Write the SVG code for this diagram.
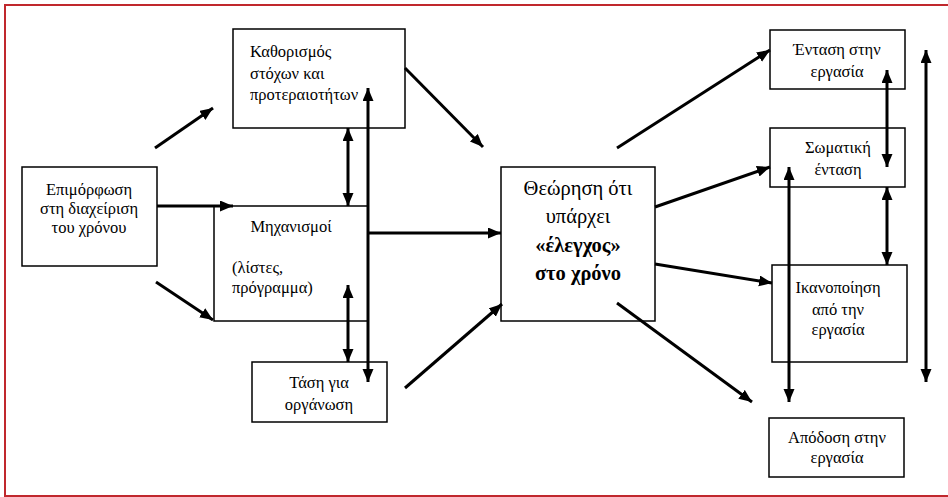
<svg xmlns="http://www.w3.org/2000/svg" width="948" height="497" viewBox="0 0 948 497">
<style>
.bx{fill:#fff;stroke:#000;stroke-width:1.5}
.t{font-family:"Liberation Serif","Times New Roman",serif;font-size:16.5px;fill:#000}
.c{text-anchor:middle}
.big{font-size:20.5px}
.b{font-weight:bold}
.ln{stroke:#000;stroke-width:3;fill:none}
.s{marker-end:url(#ah)}
.d{marker-start:url(#ah);marker-end:url(#ah)}
</style>
<defs>
<marker id="ah" markerUnits="userSpaceOnUse" markerWidth="14" markerHeight="12" refX="13" refY="5.5" orient="auto-start-reverse">
<path d="M0,0 L13,5.5 L0,11 Z" fill="#000"/>
</marker>
</defs>
<rect x="0" y="0" width="948" height="497" fill="#fff"/>
<rect x="5" y="5" width="960" height="491" fill="none" stroke="#c0282d" stroke-width="2"/>
<g id="n-kathorismos"><rect class="bx" x="233" y="29" width="172" height="99"/>
<text class="t" x="250" y="57">Καθορισμός</text><text class="t" x="250" y="79">στόχων και</text><text class="t" x="250" y="100">προτεραιοτήτων</text></g>
<g id="n-epimorfosi"><rect class="bx" x="22" y="167" width="135" height="99"/>
<text class="t c" x="89" y="195">Επιμόρφωση</text><text class="t c" x="89" y="214">στη διαχείριση</text><text class="t c" x="89" y="233">του χρόνου</text></g>
<g id="n-mixanismoi"><rect class="bx" x="214" y="206" width="154" height="115"/>
<text class="t c" x="291" y="232">Μηχανισμοί</text><text class="t" x="232" y="273">(λίστες,</text><text class="t" x="232" y="293">πρόγραμμα)</text></g>
<g id="n-tasi"><rect class="bx" x="252" y="362" width="135" height="60"/>
<text class="t c" x="319" y="388">Τάση για</text><text class="t c" x="319" y="410">οργάνωση</text></g>
<g id="n-theorisi"><rect class="bx" x="501" y="167" width="154" height="154"/>
<text class="t c big" x="578" y="195">Θεώρηση ότι</text><text class="t c big" x="578" y="223">υπάρχει</text><text class="t c big b" x="578" y="252">«έλεγχος»</text><text class="t c big b" x="578" y="280">στο χρόνο</text></g>
<g id="n-entasi"><rect class="bx" x="770" y="30" width="135" height="59"/>
<text class="t c" x="837" y="55">Ένταση στην</text><text class="t c" x="837" y="77">εργασία</text></g>
<g id="n-somatiki"><rect class="bx" x="770" y="128" width="135" height="59"/>
<text class="t c" x="838" y="153">Σωματική</text><text class="t c" x="838" y="175">ένταση</text></g>
<g id="n-ikanopoiisi"><rect class="bx" x="772" y="265" width="135" height="97"/>
<text class="t c" x="838" y="293">Ικανοποίηση</text><text class="t c" x="838" y="315">από την</text><text class="t c" x="838" y="335">εργασία</text></g>
<g id="n-apodosi"><rect class="bx" x="769" y="418" width="135" height="59"/>
<text class="t c" x="837" y="443">Απόδοση στην</text><text class="t c" x="837" y="463">εργασία</text></g>
<g id="connectors">
<line class="ln s" x1="155" y1="148" x2="213" y2="108"/>
<line class="ln s" x1="157" y1="206" x2="233" y2="206"/>
<line class="ln s" x1="156" y1="282" x2="213" y2="320"/>
<line class="ln d" x1="348" y1="128" x2="348" y2="206"/>
<line class="ln d" x1="348" y1="285" x2="348" y2="362"/>
<line class="ln d" x1="368" y1="88" x2="368" y2="382"/>
<line class="ln s" x1="368" y1="233" x2="501" y2="233"/>
<line class="ln s" x1="405" y1="68" x2="483" y2="147"/>
<line class="ln s" x1="405" y1="388" x2="502" y2="304"/>
<line class="ln s" x1="617" y1="148" x2="770" y2="50"/>
<line class="ln s" x1="655" y1="207" x2="770" y2="167"/>
<line class="ln s" x1="655" y1="264" x2="772" y2="283"/>
<line class="ln s" x1="617" y1="303" x2="752" y2="402"/>
<line class="ln d" x1="887" y1="70" x2="887" y2="167"/>
<line class="ln d" x1="887" y1="187" x2="887" y2="265"/>
<line class="ln d" x1="789" y1="167" x2="789" y2="402"/>
<line class="ln d" x1="926" y1="50" x2="926" y2="382"/>
</g>
</svg>
